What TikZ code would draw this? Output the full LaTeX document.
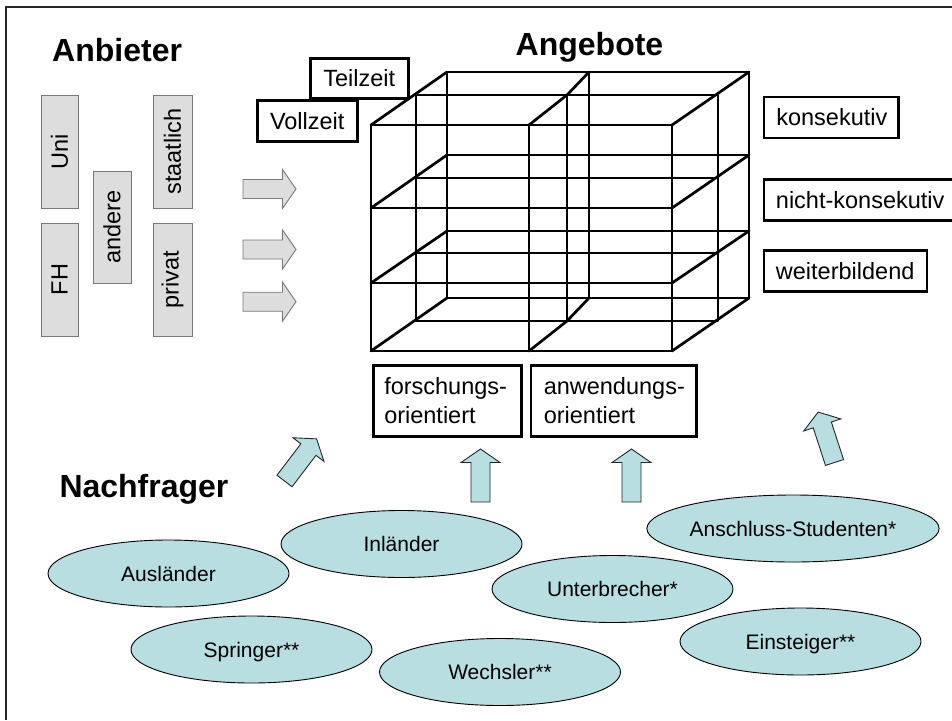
\documentclass[tikz,border=0pt]{standalone}
\usepackage{fontspec}
\setmainfont{Liberation Sans}
\usetikzlibrary{shapes.geometric}
\definecolor{tealfill}{RGB}{184,222,226}
\definecolor{gfill}{RGB}{221,221,221}
\definecolor{gline}{RGB}{120,120,120}
\newcommand{\blockarrow}[4]{%
  \begin{scope}[shift={(#2,#3)},rotate=#4]
    \draw[#1] (0,-9.5) -- (39.5,-9.5) -- (39.5,-19.5) -- (53,0) -- (39.5,19.5) -- (39.5,9.5) -- (0,9.5) -- cycle;
  \end{scope}}
\tikzset{
  cube/.style={line width=2.7pt, line cap=round, line join=round},
  oval/.style={ellipse, draw=black, line width=0.9pt, fill=tealfill, minimum width=241pt, minimum height=67pt, inner sep=0pt, font=\fontsize{21}{25}\selectfont, text height=15.2pt, text depth=0pt},
  bluearrow/.style={fill=tealfill, draw=black!85, line width=0.9pt, line join=miter},
  grayarrow/.style={fill=gfill, draw=gline, line width=0.9pt, line join=miter},
  graybox/.style={draw=gline, fill=gfill, line width=0.9pt, rotate=90, inner sep=0pt, font=\fontsize{23.5}{28}\selectfont},
  wbox/.style={draw=black, line width=2.5pt, fill=white, inner sep=0pt, anchor=north west, font=\fontsize{23.5}{29}\selectfont},
  title/.style={font=\fontsize{32}{36}\selectfont\bfseries, inner sep=0pt}
}
\begin{document}
\begin{tikzpicture}[x=1pt,y=-1pt]
\useasboundingbox (0,0) rectangle (952,720);
\fill[white] (0,0) rectangle (952,720);
% frame
\draw[line width=1.2pt, black!85] (6,720) -- (6,7) -- (952,7);

% titles
\node[title, anchor=base west] (anbieter) at (52,61.7) {Anbieter};
\node[title, anchor=base] (angebote) at (589.5,55) {Angebote};
\node[title, anchor=base west] (nachfrager) at (59.3,497.3) {Nachfrager};

% gray provider boxes
\node[graybox, minimum width=113pt, minimum height=37pt] (uni) at (59.5,151.5) {Uni};
\node[graybox, minimum width=113pt, minimum height=37pt] (fh) at (59.5,279.5) {FH};
\node[graybox, minimum width=112pt, minimum height=38pt] (andere) at (112,227) {andere};
\node[graybox, minimum width=113pt, minimum height=39pt] (staatlich) at (172.5,151.5) {staatlich};
\node[graybox, minimum width=113pt, minimum height=39pt] (privat) at (172.5,279.5) {privat};

% gray arrows
\blockarrow{grayarrow}{243}{189}{0}
\blockarrow{grayarrow}{243}{249.5}{0}
\blockarrow{grayarrow}{243}{301.7}{0}

% cube: back layer
\draw[cube] (447,72) rectangle (749,298);
\draw[cube] (447,155) -- (749,155);
\draw[cube] (447,231) -- (749,231);
\draw[cube] (589,72) -- (589,298);
% cube: middle layer
\draw[cube] (416,95) rectangle (718,321);
\draw[cube] (416,178) -- (718,178);
\draw[cube] (416,253) -- (718,253);
\draw[cube] (567,95) -- (567,321);
% cube: front layer
\draw[cube] (371,125) rectangle (672,351);
\draw[cube] (371,208) -- (672,208);
\draw[cube] (371,283) -- (672,283);
\draw[cube] (529,125) -- (529,351);
% depth edges
\foreach \f/\b in {125/72,208/155,283/231,351/298}{
  \draw[cube] (371,\f) -- (447,\b);
  \draw[cube] (672,\f) -- (749,\b);
}
\draw[cube] (529,125) -- (567,95) -- (589,72);
\draw[cube] (529,351) -- (567,321) -- (589,298);

% time boxes
\node[wbox, minimum width=98pt, minimum height=40pt] (teilzeit) at (309,57) {};
\node (teilzeitT) at (teilzeit.center) [font=\fontsize{23.5}{29}\selectfont, inner sep=0pt] {Teilzeit};
\node[wbox, minimum width=100pt, minimum height=41pt] (vollzeit) at (256,99) {};
\node (vollzeitT) at (vollzeit.center) [font=\fontsize{23.5}{29}\selectfont, inner sep=0pt] {Vollzeit};

% right boxes
\node[wbox, minimum width=134.7pt, minimum height=41.3pt, text width=110pt, inner xsep=12pt, align=left] (kons) at (762.7,95.5) {konsekutiv};
\node[wbox, minimum width=200pt, minimum height=41pt, text width=176pt, inner xsep=12pt, align=left] (nkons) at (762.7,178.3) {nicht-konsekutiv};
\node[wbox, minimum width=163pt, minimum height=41pt, text width=139pt, inner xsep=12pt, align=left] (weiter) at (762.7,249) {weiterbildend};

% bottom boxes
\node[wbox, minimum width=148pt, minimum height=71pt, text width=126pt, inner xsep=11pt, align=left] (forsch) at (372,364) {\mbox{forschungs-}\\orientiert};
\node[wbox, minimum width=165.5pt, minimum height=71pt, text width=139.5pt, inner xsep=13pt, align=left] (anwend) at (529.5,364) {\mbox{anwendungs-}\\orientiert};

% blue arrows
\blockarrow{bluearrow}{284.5}{481}{52.7}
\blockarrow{bluearrow}{480.5}{502}{90}
\blockarrow{bluearrow}{631.5}{502}{90}
\blockarrow{bluearrow}{834.5}{462.5}{108}

% demand ellipses
\node[oval] (ausl) at (168.5,573.5) {Ausländer};
\node[oval] (inl) at (401.5,544) {Inländer};
\node[oval] (spr) at (251.5,649.5) {Springer**};
\node[oval] (wech) at (500,672) {Wechsler**};
\node[oval] (unter) at (612.5,589) {Unterbrecher*};
\node[oval] (ansch) at (793,528.5) {Anschluss-Studenten*};
\node[oval] (einst) at (800.5,641.5) {Einsteiger**};
\end{tikzpicture}
\end{document}
